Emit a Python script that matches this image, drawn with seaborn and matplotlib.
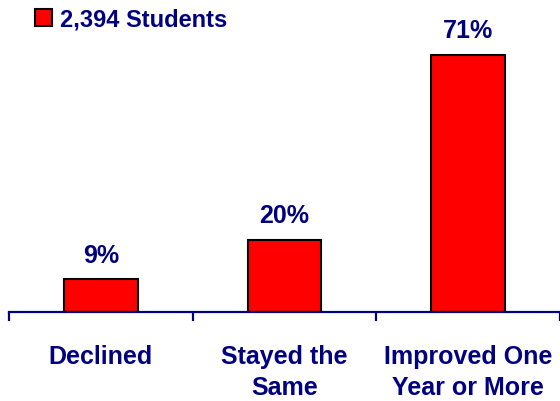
import matplotlib
matplotlib.use("Agg")
import matplotlib.pyplot as plt
import seaborn as sns
from matplotlib.patches import Patch

# data
categories = ["Declined", "Stayed the\nSame", "Improved One\nYear or More"]
values = [9, 20, 71]
series_name = "2,394 Students"

navy = "#000080"

sns.set_style("white")
plt.rcParams['font.family'] = ['Liberation Sans', 'DejaVu Sans']
plt.rcParams['font.weight'] = 'bold'

fig = plt.figure(figsize=(5.6, 4.02), dpi=100)
ax = fig.add_axes([9 / 560, 1 - 313 / 402, 551 / 560, 0.7212])

sns.barplot(x=categories, y=values, color="red", saturation=1,
            edgecolor="black", linewidth=1.5, width=0.4, ax=ax)

ax.set_xlim(-0.5, 2.5)
ax.set_ylim(0, 80)

# percent labels above bars
ax.bar_label(ax.containers[0], labels=[f"{v}%" for v in values],
             padding=9, fontsize=18, fontweight="bold", color=navy)

# axes styling
for s in ["left", "top", "right"]:
    ax.spines[s].set_visible(False)
ax.spines["bottom"].set_color(navy)
ax.spines["bottom"].set_linewidth(1.6)
ax.set_yticks([])

ax.set_xticks([0, 1, 2])
ax.set_xticklabels(categories, fontsize=18, fontweight="bold", color=navy,
                   linespacing=1.35)
ax.tick_params(axis="x", which="major", bottom=True, length=0, pad=23)
ax.set_xticks([-0.5, 0.5, 1.5, 2.5], minor=True)
ax.tick_params(axis="x", which="minor", bottom=True, length=6.5, width=1.6,
               color=navy, direction="out")
ax.set_xlabel("")
ax.set_ylabel("")

# legend at top left
handle = Patch(facecolor="red", edgecolor="black", linewidth=1.5, label=series_name)
leg = fig.legend(handles=[handle], loc="center left", bbox_to_anchor=(35 / 560, 1 - 20 / 402),
                 frameon=False, borderpad=0, borderaxespad=0, handlelength=0.7,
                 handleheight=0.7, handletextpad=0.35,
                 prop={"size": 17, "weight": "bold", "family": "Liberation Sans"})
for t in leg.get_texts():
    t.set_color(navy)

fig.savefig("out.png", dpi=100)
